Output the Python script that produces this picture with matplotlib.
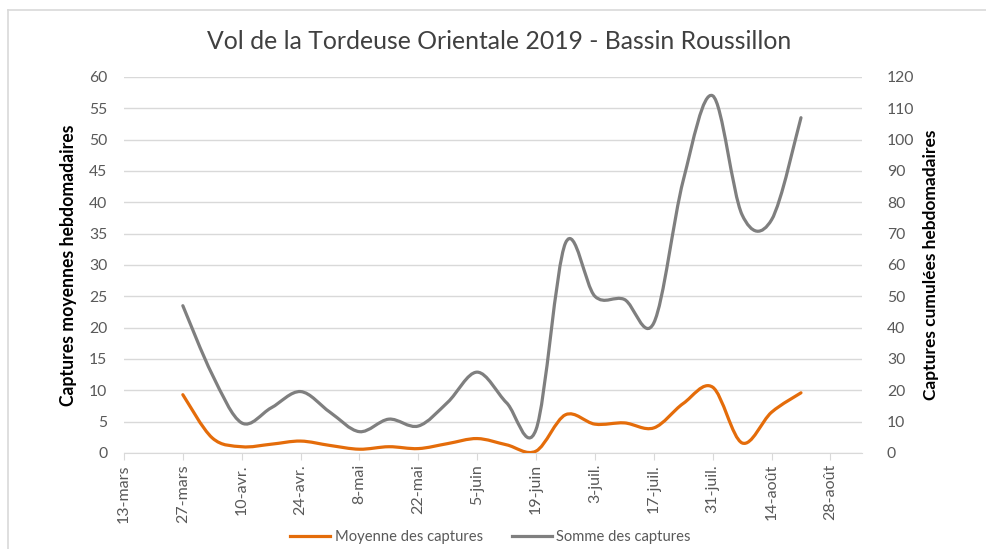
import datetime as dt
import matplotlib
matplotlib.use("Agg")
import matplotlib.pyplot as plt
import matplotlib.dates as mdates
from matplotlib.path import Path
from matplotlib.patches import PathPatch
from matplotlib.lines import Line2D
import numpy as np

plt.rcParams['font.family'] = ['Lato', 'DejaVu Sans']

# ---- data ----
dates = ["2019-03-27", "2019-04-03", "2019-04-10", "2019-04-17", "2019-04-24",
         "2019-05-01", "2019-05-08", "2019-05-15", "2019-05-22", "2019-05-29",
         "2019-06-05", "2019-06-12", "2019-06-19", "2019-06-26", "2019-07-03",
         "2019-07-10", "2019-07-17", "2019-07-24", "2019-07-31", "2019-08-07",
         "2019-08-14", "2019-08-21"]
moyenne = [9.3, 2.4, 1.0, 1.4, 1.9, 1.2, 0.6, 1.0, 0.7, 1.5, 2.3, 1.3, 0.3,
           6.1, 4.6, 4.8, 4.0, 7.9, 10.5, 1.6, 6.5, 9.6]
somme = [47, 25, 9.6, 14.4, 19.6, 13, 6.8, 10.8, 8.6, 16.2, 25.8, 16, 7.5,
         67, 50, 49, 41.5, 87, 114, 76, 74.4, 107]
tick_dates = ["2019-03-13", "2019-03-27", "2019-04-10", "2019-04-24", "2019-05-08",
              "2019-05-22", "2019-06-05", "2019-06-19", "2019-07-03", "2019-07-17",
              "2019-07-31", "2019-08-14", "2019-08-28"]
tick_labels = ["13-mars", "27-mars", "10-avr.", "24-avr.", "8-mai", "22-mai",
               "5-juin", "19-juin", "3-juil.", "17-juil.", "31-juil.", "14-août",
               "28-août"]
title = "Vol de la Tordeuse Orientale 2019 - Bassin Roussillon"
ylabel_left = "Captures moyennes hebdomadaires"
ylabel_right = "Captures cumulées hebdomadaires"
series_names = ["Moyenne des captures", "Somme des captures"]

ORANGE = "#E46C0A"
GRAY = "#7F7F7F"
GRID = "#D9D9D9"
TXT = "#595959"

def smooth_path(x, y):
    x = np.asarray(x, float)
    y = np.asarray(y, float)
    n = len(x)
    verts = [(x[0], y[0])]
    codes = [Path.MOVETO]
    for i in range(n - 1):
        xp, yp = (x[i - 1], y[i - 1]) if i > 0 else (x[i], y[i])
        xn, yn = (x[i + 2], y[i + 2]) if i + 2 < n else (x[i + 1], y[i + 1])
        c1 = (x[i] + (x[i + 1] - xp) / 6.0, y[i] + (y[i + 1] - yp) / 6.0)
        c2 = (x[i + 1] - (xn - x[i]) / 6.0, y[i + 1] - (yn - y[i]) / 6.0)
        verts += [c1, c2, (x[i + 1], y[i + 1])]
        codes += [Path.CURVE4] * 3
    return Path(verts, codes)

xd = mdates.date2num([dt.datetime.strptime(d, "%Y-%m-%d") for d in dates])
xt = mdates.date2num([dt.datetime.strptime(d, "%Y-%m-%d") for d in tick_dates])

fig = plt.figure(figsize=(9.87, 5.49), dpi=100)
ax = fig.add_axes([0.1256, 0.1749, 0.7477, 0.6849])
ax2 = ax.twinx()

ax.set_xlim(xt[0], xt[0] + 175.5)
ax.set_ylim(0, 60)
ax2.set_ylim(0, 120)
ax.set_yticks(np.arange(0, 61, 5))
ax2.set_yticks(np.arange(0, 121, 10))
ax.grid(axis='y', color=GRID, lw=1.0)
ax.set_axisbelow(True)

ax.add_patch(PathPatch(smooth_path(xd, moyenne), fill=False, edgecolor=ORANGE,
                       lw=2.3, capstyle='round', joinstyle='round', zorder=3))
ax2.add_patch(PathPatch(smooth_path(xd, somme), fill=False, edgecolor=GRAY,
                        lw=2.3, capstyle='round', joinstyle='round', zorder=3))

for a in (ax, ax2):
    for s in ['top', 'left', 'right']:
        a.spines[s].set_visible(False)
    a.spines['bottom'].set_color(GRID)
ax2.spines['bottom'].set_visible(False)

ax.set_xticks(xt)
ax.set_xticklabels(tick_labels, rotation=90, color=TXT, fontsize=11.5)
ax.tick_params(axis='x', length=5, color=GRID, pad=3)
ax.tick_params(axis='y', length=0, labelcolor=TXT, labelsize=11.3, pad=12)
ax2.tick_params(axis='y', length=0, labelcolor=TXT, labelsize=11.3, pad=18)

ax.set_ylabel(ylabel_left, fontsize=12.7, fontweight='bold', color='black', labelpad=9)
ax2.set_ylabel(ylabel_right, fontsize=12.5, fontweight='bold', color='black', labelpad=6)

fig.text(0.506, 0.925, title, ha='center', va='center', fontsize=17.8, color='#404040')

handles = [Line2D([], [], color=ORANGE, lw=2.3), Line2D([], [], color=GRAY, lw=2.3)]
fig.legend(handles, series_names, loc='center', bbox_to_anchor=(0.497, 0.022),
           ncol=2, frameon=False, fontsize=10.6, handlelength=2.7,
           handletextpad=0.3, columnspacing=2.0, labelcolor=TXT)

# outer chart border (left and top)
fig.add_artist(Line2D([8.5 / 987, 8.5 / 987], [0, 1 - 9.5 / 549], transform=fig.transFigure,
                      color=GRID, lw=1.2))
fig.add_artist(Line2D([8.5 / 987, 1], [1 - 9.5 / 549, 1 - 9.5 / 549], transform=fig.transFigure,
                      color=GRID, lw=1.2))

fig.savefig("out.png", dpi=100)
